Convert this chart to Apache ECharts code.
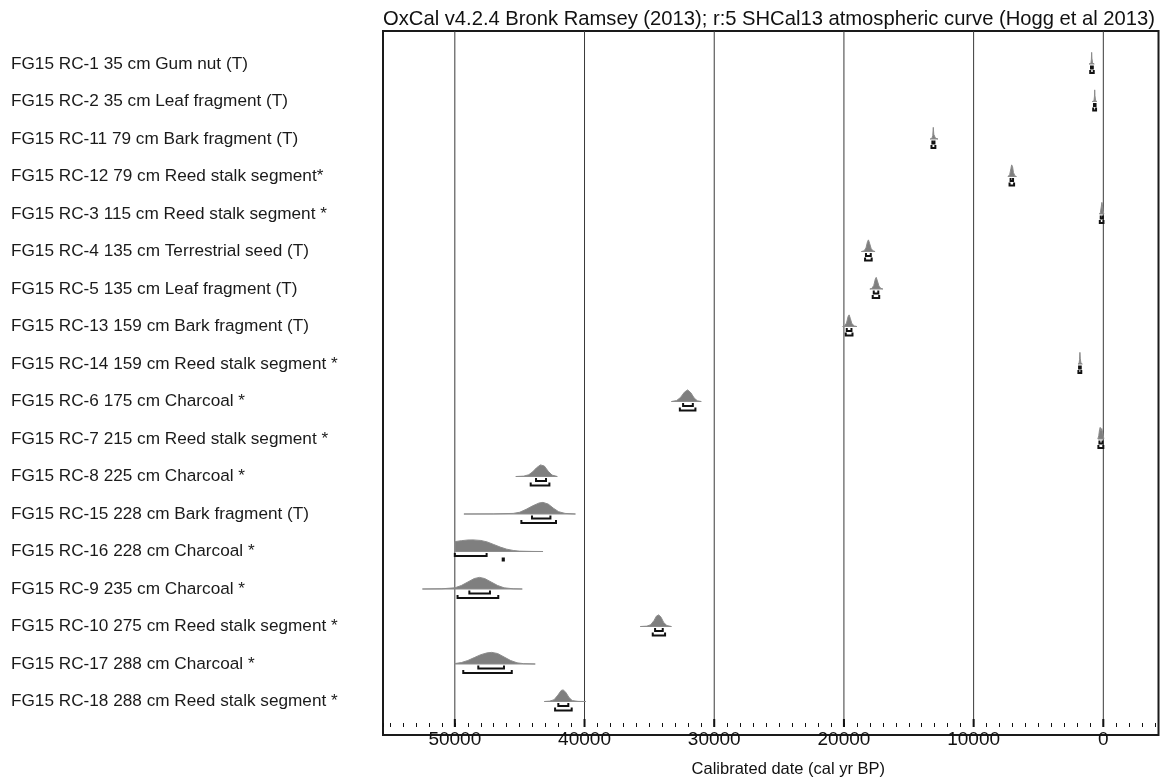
<!DOCTYPE html>
<html>
<head>
<meta charset="utf-8">
<script src="https://cdn.jsdelivr.net/npm/echarts@6/dist/echarts.min.js"></script>
<style>
  html, body { margin: 0; padding: 0; background: #fff; }
  #chart { width: 1164px; height: 783px; }
</style>
</head>
<body>
<div id="chart"></div>
<script>
// sample names, top to bottom
const labels = [
  'FG15 RC-1 35 cm Gum nut (T)',
  'FG15 RC-2 35 cm Leaf fragment (T)',
  'FG15 RC-11 79 cm Bark fragment (T)',
  'FG15 RC-12 79 cm Reed stalk segment*',
  'FG15 RC-3 115 cm Reed stalk segment *',
  'FG15 RC-4 135 cm Terrestrial seed (T)',
  'FG15 RC-5 135 cm Leaf fragment (T)',
  'FG15 RC-13 159 cm Bark fragment (T)',
  'FG15 RC-14 159 cm Reed stalk segment *',
  'FG15 RC-6 175 cm Charcoal *',
  'FG15 RC-7 215 cm Reed stalk segment *',
  'FG15 RC-8 225 cm Charcoal *',
  'FG15 RC-15 228 cm Bark fragment (T)',
  'FG15 RC-16 228 cm Charcoal *',
  'FG15 RC-9 235 cm Charcoal *',
  'FG15 RC-10 275 cm Reed stalk segment *',
  'FG15 RC-17 288 cm Charcoal *',
  'FG15 RC-18 288 cm Reed stalk segment *'
];

// calibrated distributions: [cal yr BP, relative probability]
const dists = [
  [[1100,0],[960,0.05],[920,0.4],[900,1],[880,0.5],[830,0.1],[700,0]],
  [[850,0],[720,0.05],[685,0.4],[665,1],[645,0.5],[600,0.1],[500,0]],
  [[13350,0],[13220,0.05],[13150,0.3],[13110,1],[13070,0.4],[12950,0.08],[12750,0]],
  [[7350,0],[7220,0.15],[7120,0.7],[7070,1],[7000,0.85],[6930,0.35],[6820,0.05],[6700,0]],
  [[300,0],[230,0.1],[160,0.6],[110,1],[70,0.8],[20,0.3],[-40,0]],
  [[18650,0],[18450,0.05],[18300,0.3],[18180,0.85],[18110,1],[18020,0.7],[17900,0.25],[17750,0.05],[17600,0]],
  [[18000,0],[17850,0.05],[17700,0.3],[17580,0.85],[17510,1],[17420,0.7],[17300,0.25],[17150,0.05],[17000,0]],
  [[20100,0],[19950,0.05],[19800,0.3],[19680,0.85],[19600,1],[19510,0.7],[19390,0.25],[19200,0.05],[19000,0]],
  [[1950,0],[1870,0.05],[1830,0.4],[1805,1],[1780,0.5],[1730,0.1],[1620,0]],
  [[33300,0],[32900,0.08],[32600,0.35],[32300,0.8],[32050,1],[31800,0.75],[31550,0.3],[31300,0.06],[31000,0]],
  [[420,0],[350,0.3],[290,0.8],[240,1],[180,0.7],[120,0.9],[60,0.6],[0,0.3],[-40,0]],
  [[45300,0],[44700,0.03],[44300,0.15],[44000,0.4],[43700,0.75],[43400,1],[43100,0.9],[42800,0.45],[42500,0.12],[42100,0]],
  [[49300,0],[47000,0.01],[45500,0.05],[45000,0.15],[44500,0.4],[44000,0.7],[43500,0.95],[43200,1],[42800,0.85],[42400,0.5],[42000,0.2],[41500,0.05],[40700,0]],
  [[50000,0],[50000,0.85],[49500,0.93],[49000,0.99],[48600,1],[48000,0.95],[47500,0.82],[47000,0.6],[46500,0.38],[46000,0.2],[45500,0.09],[45000,0.03],[44000,0.005],[43200,0]],
  [[52500,0],[51000,0.02],[50000,0.1],[49500,0.3],[49000,0.6],[48500,0.9],[48100,1],[47700,0.9],[47200,0.6],[46700,0.3],[46200,0.1],[45500,0.02],[44800,0]],
  [[35700,0],[35200,0.03],[34900,0.15],[34650,0.5],[34450,0.9],[34280,1],[34100,0.8],[33900,0.35],[33650,0.08],[33300,0]],
  [[50000,0],[50000,0.04],[49500,0.12],[49000,0.3],[48500,0.55],[48000,0.8],[47500,0.96],[47150,1],[46700,0.9],[46200,0.6],[45700,0.3],[45200,0.1],[44700,0.03],[43800,0]],
  [[43100,0],[42700,0.03],[42350,0.15],[42050,0.55],[41800,0.95],[41650,1],[41450,0.8],[41200,0.35],[40950,0.08],[40500,0.01],[39900,0]]
];

// 68.2% and 95.4% ranges, [from, to] cal yr BP
const range68 = [
  [[950,810]], [[720,600]], [[13180,13020]], [[7150,6960]], [[200,30]],
  [[18300,17930]], [[17700,17350]], [[19780,19420]], [[1870,1740]],
  [[32400,31650]], [[300,60]], [[43740,42970]], [[44050,42630]],
  [[50000,47550]], [[48880,47290]], [[34560,33970]], [[48190,46210]], [[42020,41250]]
];
const range95 = [
  [[1010,740]], [[780,560]], [[13250,12950]], [[7230,6880]], [[270,-10]],
  [[18370,17860]], [[17780,17280]], [[19860,19340]], [[1920,1700]],
  [[32650,31450]], [[380,0]], [[44150,42710]], [[44870,42200]],
  [[46310,46220]], [[49790,46650]], [[34740,33790]], [[49350,45610]], [[42270,40990]]
];

const majorTicks = [50000, 40000, 30000, 20000, 10000, 0];

const PEAK = 0.31;   // distribution height in rows
const OFF68 = 0.12;  // bracket offsets below baseline, rows
const OFF95 = 0.24;
const TICKH = 0.08;

const font = 'Liberation Sans, Arial, Helvetica, sans-serif';

let bracketData = [];
labels.forEach(function (l, i) {
  range68[i].forEach(function (r) { bracketData.push([r[0], r[1], i, OFF68]); });
  range95[i].forEach(function (r) { bracketData.push([r[0], r[1], i, OFF95]); });
});

let chart = echarts.init(document.getElementById('chart'));

let option = {
  animation: false,
  backgroundColor: '#fff',
  textStyle: { fontFamily: font },
  title: {
    text: 'OxCal v4.2.4 Bronk Ramsey (2013); r:5 SHCal13 atmospheric curve (Hogg et al 2013)',
    right: 4,
    top: 4,
    textStyle: { fontFamily: font, fontSize: 20.2, fontWeight: 'normal', color: '#111' }
  },
  grid: [
    // frame
    { left: 383, right: 5.5, top: 31, bottom: 48, show: true, borderColor: '#1a1a1a', borderWidth: 2, backgroundColor: 'transparent' },
    // axis / gridlines
    { left: 383.5, right: 8.8, top: 31, bottom: 48 },
    // data rows
    { left: 383.5, right: 8.8, top: 45.25, bottom: 62.75 }
  ],
  xAxis: [
    {
      gridIndex: 1, type: 'value', inverse: true, min: -4000, max: 55500, interval: 1000,
      axisLine: { show: false },
      axisTick: { show: true, inside: true, length: 4, lineStyle: { color: '#111', width: 1 } },
      axisLabel: {
        margin: 3, fontSize: 19, color: '#111', fontFamily: font,
        formatter: function (v) { return v % 10000 === 0 ? String(v) : ''; }
      },
      splitLine: { show: false },
      name: 'Calibrated date (cal yr BP)',
      nameLocation: 'middle',
      nameGap: 34,
      nameTextStyle: { fontSize: 16.5, color: '#111', fontFamily: font, padding: [0, 0, 0, 38] }
    },
    { gridIndex: 2, type: 'value', inverse: true, min: -4000, max: 55500, show: false },
    { gridIndex: 0, type: 'value', show: false }
  ],
  yAxis: [
    { gridIndex: 1, type: 'value', min: 0, max: 1, show: false },
    {
      gridIndex: 2, type: 'category', inverse: true, data: labels,
      axisLine: { show: false }, axisTick: { show: false }, splitLine: { show: false },
      axisLabel: { align: 'left', margin: 372.5, fontSize: 17.2, color: '#1a1a1a', fontFamily: font, interval: 0 }
    },
    { gridIndex: 2, type: 'value', inverse: true, min: -0.5, max: 17.5, show: false },
    { gridIndex: 0, type: 'value', show: false }
  ],
  series: [
    {
      // major gridlines and ticks
      type: 'custom',
      xAxisIndex: 0, yAxisIndex: 0,
      data: majorTicks.map(function (v) { return [v, 0]; }),
      silent: true,
      renderItem: function (params, api) {
        let v = api.value(0);
        let b = api.coord([v, 0]);
        let t = api.coord([v, 1]);
        return {
          type: 'group',
          children: [
            { type: 'line', shape: { x1: b[0], y1: b[1], x2: t[0], y2: t[1] }, style: { stroke: '#3a3a3a', lineWidth: 1 } },
            { type: 'line', shape: { x1: b[0], y1: b[1], x2: b[0], y2: b[1] - 8 }, style: { stroke: '#111', lineWidth: 2 } }
          ]
        };
      }
    },
    {
      // probability distributions
      type: 'custom',
      xAxisIndex: 1, yAxisIndex: 2,
      data: labels.map(function (l, i) { return [dists[i][0][0], i]; }),
      silent: true,
      renderItem: function (params, api) {
        let i = params.dataIndex;
        let pts = dists[i].map(function (p) { return api.coord([p[0], i - p[1] * PEAK]); });
        return {
          type: 'polygon',
          shape: { points: pts },
          style: { fill: '#7f7f7f', stroke: '#8c8c8c', lineWidth: 1 }
        };
      }
    },
    {
      // 68.2% / 95.4% range brackets
      type: 'custom',
      xAxisIndex: 1, yAxisIndex: 2,
      data: bracketData,
      encode: { x: [0, 1], y: 2 },
      silent: true,
      renderItem: function (params, api) {
        let row = api.value(2), off = api.value(3);
        let a = api.coord([api.value(0), row + off]);
        let b = api.coord([api.value(1), row + off]);
        let aTop = api.coord([api.value(0), row + off - TICKH]);
        let bTop = api.coord([api.value(1), row + off - TICKH]);
        return {
          type: 'polyline',
          shape: { points: [aTop, a, b, bTop] },
          style: { stroke: '#111', lineWidth: 2, fill: null }
        };
      }
    }
  ]
};

chart.setOption(option);
</script>
</body>
</html>
